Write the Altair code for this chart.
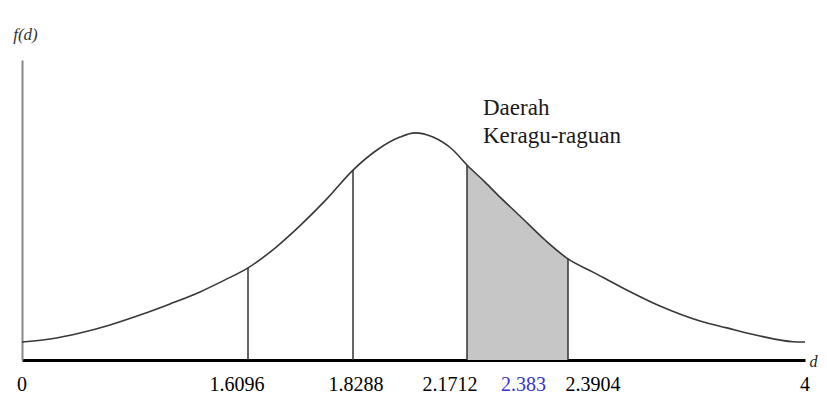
import altair as alt
import pandas as pd

# Curve of the Durbin-Watson statistic density f(d)
curve_d = [0.0, 0.199, 0.413, 0.627, 0.840, 1.054, 1.268, 1.446, 1.6096, 1.666,
           1.7178, 1.7742, 1.8288, 1.9009, 1.9699, 2.015, 2.069, 2.1291, 2.1712,
           2.2103, 2.2428, 2.2862, 2.3405, 2.3904, 2.5602, 2.7436, 3.0152, 3.2869,
           3.4703, 3.6944, 3.9185, 4.0]
curve_f = [0.060, 0.070, 0.090, 0.117, 0.150, 0.187, 0.227, 0.267, 0.307, 0.373,
           0.447, 0.537, 0.633, 0.700, 0.743, 0.757, 0.743, 0.700, 0.650,
           0.593, 0.543, 0.480, 0.400, 0.337, 0.293, 0.245, 0.180, 0.130,
           0.107, 0.080, 0.061, 0.060]

# critical values (dL, dU, 4-dU, 4-dL) and curve height there
crit_d = [1.6096, 1.8288, 2.1712, 2.3904]
crit_f = [0.307, 0.633, 0.650, 0.337]

# shaded "doubt" region
shade_lo, shade_hi = 2.1712, 2.3904

# labels under the axis
tick_values = [0, 1.6096, 1.8288, 2.1712, 2.383, 2.3904, 4]
tick_labels = ["0", "1.6096", "1.8288", "2.1712", "2.383", "2.3904", "4"]
tick_colors = ["black", "black", "black", "black", "#3535d0", "black", "black"]
tick_dx = [0, -11, 3, -17, -41, 25, 0]

# annotation
note_d = [2.2059]
note_f = [0.817]
note_text = ["Daerah\nKeragu-raguan"]

curve = pd.DataFrame({"d": curve_d, "f": curve_f})
shade = curve[(curve["d"] >= shade_lo) & (curve["d"] <= shade_hi)]
crit = pd.DataFrame({"d": crit_d, "f": crit_f, "z": [0.0] * len(crit_d)})
note = pd.DataFrame({"d": note_d, "f": note_f, "t": note_text})

xs = alt.Scale(domain=[0, 1.6096, 1.8288, 2.1712, 2.3904, 4],
               range=[0, 226, 331, 445, 546, 783], nice=False, zero=False)
ys = alt.Scale(domain=[0, 1], nice=False, zero=True)

x_axis = alt.Axis(title="d", titleAngle=0, titleX=787, titleY=1, titleAlign="left",
                  titleBaseline="middle", titleFont="Liberation Serif",
                  titleFontStyle="italic", titleFontWeight="normal", titleFontSize=16,
                  titleColor="#222", domainColor="black", domainWidth=3,
                  ticks=False, labels=False, grid=False)
y_axis = alt.Axis(title="f(d)", titleAngle=0, titleX=3, titleY=-26, titleAlign="center",
                  titleBaseline="middle", titleFont="Liberation Serif",
                  titleFontStyle="italic", titleFontWeight="normal", titleFontSize=17,
                  titleColor="#333", domainColor="#888", domainWidth=2,
                  ticks=False, labels=False, grid=False)

area = alt.Chart(shade).mark_area(color="#c6c6c6", interpolate="monotone").encode(
    x=alt.X("d:Q", scale=xs, axis=x_axis),
    y=alt.Y("f:Q", scale=ys, axis=y_axis),
)

line = alt.Chart(curve).mark_line(color="#383838", strokeWidth=1.6,
                                  interpolate="monotone").encode(
    x=alt.X("d:Q", scale=xs),
    y=alt.Y("f:Q", scale=ys),
)

rules = alt.Chart(crit).mark_rule(color="#333", strokeWidth=1.5).encode(
    x=alt.X("d:Q", scale=xs),
    y=alt.Y("z:Q", scale=ys),
    y2="f:Q",
)

note_layer = alt.Chart(note).mark_text(
    align="left", baseline="alphabetic", font="Liberation Serif", fontSize=23,
    lineBreak="\n", lineHeight=28, color="#1a1a1a"
).encode(
    x=alt.X("d:Q", scale=xs),
    y=alt.Y("f:Q", scale=ys),
    text="t:N",
)

label_layers = []
for v, lab, col, dx in zip(tick_values, tick_labels, tick_colors, tick_dx):
    df = pd.DataFrame({"d": [v], "t": [lab]})
    label_layers.append(
        alt.Chart(df).mark_text(
            align="center", baseline="alphabetic", font="Liberation Serif",
            fontSize=20, color=col, dx=dx
        ).encode(
            x=alt.X("d:Q", scale=xs),
            y=alt.value(331),
            text="t:N",
        )
    )

chart = alt.layer(area, line, rules, note_layer, *label_layers).properties(
    width=783, height=300,
    autosize=alt.AutoSizeParams(type="none"),
    padding={"left": 14, "top": 52, "right": 14, "bottom": 37},
    background="white",
).configure_view(stroke=None)

chart.save("out.html", embed_options={"renderer": "svg", "actions": False})
